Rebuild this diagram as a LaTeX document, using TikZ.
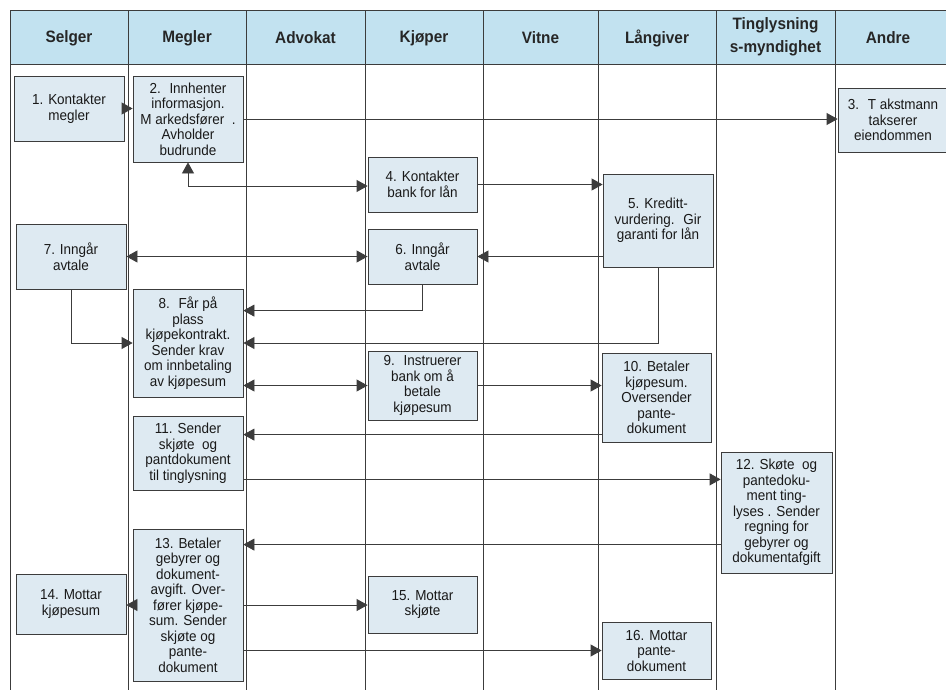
\documentclass[tikz,border=0pt]{standalone}
\usepackage{fontspec}
\setmainfont{Liberation Sans}[FakeStretch=0.93]
\usetikzlibrary{arrows.meta}
\definecolor{hdr}{RGB}{194,226,240}
\definecolor{boxc}{RGB}{222,234,242}
\definecolor{ln}{RGB}{60,60,60}
\begin{document}
\begin{tikzpicture}[x=1pt,y=-1pt,
 lane/.style={draw=ln, line width=0.9pt},
 box/.style={draw=ln, line width=0.8pt, fill=boxc, align=center, inner sep=1pt, text=black!90, font=\fontsize{14.5}{15.5}\selectfont},
 hd/.style={font=\fontsize{16.5}{23}\selectfont\bfseries, align=center, text=black!85},
 tip/.tip={Triangle[length=11pt,width=12pt]},
 arr/.style={draw=ln, line width=0.8pt, -tip},
 arrb/.style={draw=ln, line width=0.8pt, tip-tip}]
\useasboundingbox (0,0) rectangle (946,689);
\fill[white] (0,0) rectangle (946,689);
% header
\path[fill=hdr,draw=ln,line width=1pt] (10,10) rectangle (960,64);
\foreach \x in {10,128,246,365,483,598,716,835} \draw[lane] (\x,10) -- (\x,692);
\node[hd] (h1) at (69,38) {Selger};
\node[hd] (h2) at (187,38) {Megler};
\node[hd] (h3) at (305.5,38) {Advokat};
\node[hd] (h4) at (424,38) {Kjøper};
\node[hd] (h5) at (540.5,38) {Vitne};
\node[hd] (h6) at (657,38) {Långiver};
\node[hd] (h7) at (775.5,37) {Tinglysning\\s-myndighet};
\node[hd] (h8) at (888,38) {Andre};
% boxes
\node[box, minimum width=110pt, minimum height=65pt] (b1) at (69,108.5) {1. Kontakter\\megler};
\node[box, minimum width=110pt, minimum height=86pt] (b2) at (188,119) {2.~ Innhenter\\informasjon.\\M arkedsfører~ .\\Avholder\\budrunde};
\node[box, minimum width=110pt, minimum height=64pt] (b3) at (893,120) {3.~ T akstmann\\takserer\\eiendommen};
\node[box, minimum width=109pt, minimum height=55pt] (b4) at (422.5,184.5) {4. Kontakter\\bank for lån};
\node[box, minimum width=110pt, minimum height=93pt] (b5) at (658,220.5) {5. Kreditt-\\vurdering.~ Gir\\garanti for lån};
\node[box, minimum width=109pt, minimum height=55pt] (b6) at (422.5,256.5) {6. Inngår\\avtale};
\node[box, minimum width=110pt, minimum height=65pt] (b7) at (71,256.5) {7. Inngår\\avtale};
\node[box, minimum width=110pt, minimum height=108pt] (b8) at (188,343) {8.~ Får på\\plass\\kjøpekontrakt.\\Sender krav\\om innbetaling\\av kjøpesum};
\node[box, minimum width=109pt, minimum height=69pt] (b9) at (422.5,385.5) {9.~ Instruerer\\bank om å\\betale\\kjøpesum};
\node[box, minimum width=109pt, minimum height=89pt] (b10) at (656.5,397.5) {10. Betaler\\kjøpesum.\\Oversender\\pante-\\dokument};
\node[box, minimum width=110pt, minimum height=74pt] (b11) at (188,453) {11. Sender\\skjøte~ og\\pantdokument\\til tinglysning};
\node[box, minimum width=111pt, minimum height=121pt] (b12) at (776.5,512.5) {12. Skøte~ og\\pantedoku-\\ment ting-\\lyses . Sender\\regning for\\gebyrer og\\dokumentafgift};
\node[box, minimum width=110pt, minimum height=152pt] (b13) at (188,605) {13. Betaler\\gebyrer og\\dokument-\\avgift. Over-\\fører kjøpe-\\sum. Sender\\skjøte og\\pante-\\dokument};
\node[box, minimum width=110pt, minimum height=60pt] (b14) at (71,604) {14. Mottar\\kjøpesum};
\node[box, minimum width=109pt, minimum height=57pt] (b15) at (422.5,604.5) {15. Mottar\\skjøte};
\node[box, minimum width=109pt, minimum height=57pt] (b16) at (656.5,650.5) {16. Mottar\\pante-\\dokument};
% connectors
\draw[arr] (b1.east) -- (b1.east -| b2.west);
\draw[arr] (b2.east) -- (b2.east -| b3.west);
\draw[arrb] (b2.south) |- ([yshift=-1.5pt]b4.west);
\draw[arr] (b4.east) -- (b4.east -| b5.west);
\draw[arr] (b6.east -| b5.west) -- (b6.east);
\draw[arrb] (b7.east) -- (b6.west);
\coordinate (c7) at ([yshift=-22pt]b8.north east);
\draw[arr] (b6.south) |- (c7);
\draw[arr] (b7.south) |- (b8.west);
\draw[arr] (b5.south) |- (b8.east);
\draw[arrb] (b9.west -| b8.east) -- (b9.west);
\draw[arr] (b9.east) -- (b9.east -| b10.west);
\coordinate (c12) at ([yshift=-19pt]b11.north east);
\draw[arr] (c12 -| b10.west) -- (c12);
\coordinate (c13) at ([yshift=11pt]b11.south east);
\draw[arr] (c13) -- (c13 -| b12.west);
\coordinate (c14) at ([yshift=-16pt]b13.north east);
\draw[arr] (c14 -| b12.west) -- (c14);
\draw[arr] (b13.west) -- (b13.west -| b14.east);
\draw[arr] (b13.east) -- (b13.east -| b15.west);
\draw[arr] (b16.west -| b13.east) -- (b16.west);
\end{tikzpicture}
\end{document}
